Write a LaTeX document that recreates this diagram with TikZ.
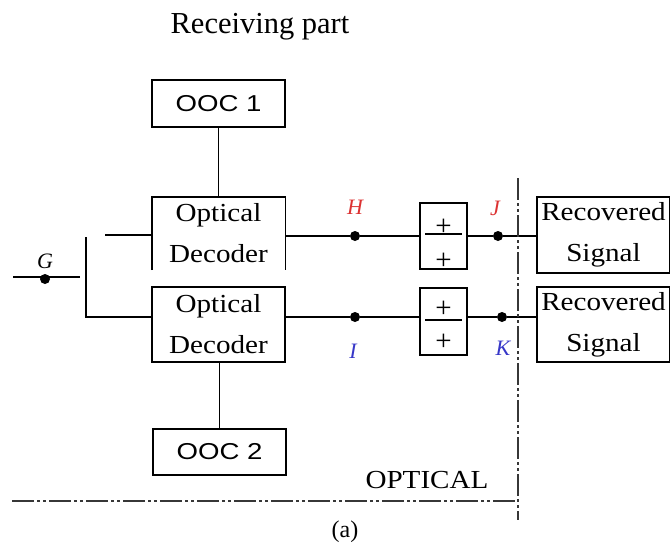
\documentclass[tikz,border=0pt]{standalone}
\usepackage{fontspec}
\setmainfont{Liberation Serif}
\newfontfamily\diagfont[FakeStretch=1.12]{Liberation Serif}
\newfontfamily\oocfont[FakeStretch=1.2]{Liberation Sans}
\definecolor{lblred}{RGB}{220,50,50}
\definecolor{lblblue}{RGB}{55,55,200}
\definecolor{dashgray}{RGB}{55,55,55}
\tikzset{
  wire/.style={line width=1.4pt, black},
  boxnode/.style={draw, line width=1.4pt, inner sep=0pt, align=center},
  openbox/.style={inner sep=0pt, align=center},
  oocbox/.style={boxnode, minimum width=133pt, font=\oocfont\fontsize{23}{23}\selectfont},
  decbox/.style={minimum width=133pt, font=\diagfont\fontsize{26}{41}\selectfont},
  sumbox/.style={boxnode, minimum width=47pt},
  plusmark/.style={inner sep=0pt, font=\fontsize{29}{29}\selectfont},
  junction/.style={circle, fill=black, inner sep=0pt, minimum size=10pt},
  ptlabel/.style={inner sep=0pt, font=\itshape\fontsize{22}{22}\selectfont},
  borderline/.style={line width=1.7pt, dashgray, dash pattern=on 22pt off 3pt on 3pt off 3pt on 3pt off 3pt},
}
\begin{document}
\begin{tikzpicture}[x=1pt, y=-1pt]
\useasboundingbox (0,0) rectangle (670,552);

% title
\node[anchor=base, font=\fontsize{30.5}{30.5}\selectfont, inner sep=0pt] (title) at (260,33) {Receiving part};

% OOC boxes
\node[oocbox, minimum height=47pt] (ooc1) at (218.5,103.5) {\raisebox{-6pt}{OOC 1}};
\node[oocbox, minimum height=46pt] (ooc2) at (219.5,452) {\raisebox{-6pt}{OOC 2}};

% decoders
\node[decbox, openbox, minimum height=73pt] (dec1) at (218.5,233.5) {Optical\\Decoder};
\draw[wire] (dec1.south west) |- (dec1.north east) -- (dec1.south east);
\node[decbox, boxnode, minimum height=75pt] (dec2) at (218.5,324.5) {Optical\\Decoder};

% summing boxes
\node[sumbox, minimum height=66pt] (sum1) at (443.5,236) {};
\node[sumbox, minimum height=67pt] (sum2) at (443.5,321.5) {};
\coordinate (s1l) at (425,234); \coordinate (s1r) at (462,234);
\coordinate (s2l) at (425,320); \coordinate (s2r) at (462,320);
\draw[line width=1.3pt] (s1l) -- (s1r);
\draw[line width=1.3pt] (s2l) -- (s2r);
\node[plusmark] (p1a) at (443.5,227) {+};
\node[plusmark] (p1b) at (443.5,261) {+};
\node[plusmark] (p2a) at (443.5,309) {+};
\node[plusmark] (p2b) at (443.5,342) {+};

% recovered signal boxes
\node[decbox, boxnode, minimum height=76pt] (rec1) at (603.5,235) {Recovered\\Signal};
\node[decbox, boxnode, minimum height=75pt] (rec2) at (603.5,324.5) {Recovered\\Signal};

% input G
\coordinate (gin) at (13,277);
\coordinate (gout) at (80,277);
\node[junction] (G) at (45,279) {};
\node[ptlabel] (Glbl) at (45,261) {G};
\draw[wire] (gin) -- (gout);
\coordinate (vtop) at (86,237);
\coordinate (vbot) at (86,317);
\draw[wire] (vtop) -- (vbot) -- (vbot -| dec2.west);
\coordinate (upin) at (105,235);
\draw[wire] (upin) -- (upin -| dec1.west);

% vertical links to OOC
\draw[wire] (ooc1.south) -- (ooc1.south |- dec1.north);
\draw[wire] (dec2.south -| ooc2.north) -- (ooc2.north);

% upper row
\node[junction] (H) at (355,236) {};
\node[junction] (J) at (498,236) {};
\draw[wire] (H -| dec1.east) -- (H) -- (sum1.west |- H);
\draw[wire] (sum1.east |- J) -- (J) -- (rec1.west |- J);
\node[ptlabel, text=lblred] (Hlbl) at (355,207) {H};
\node[ptlabel, text=lblred] (Jlbl) at (495,208) {J};

% lower row
\node[junction] (I) at (355,317) {};
\node[junction] (K) at (502,317) {};
\draw[wire] (I -| dec2.east) -- (I) -- (sum2.west |- I);
\draw[wire] (sum2.east |- K) -- (K) -- (rec2.west |- K);
\node[ptlabel, text=lblblue] (Ilbl) at (353,351) {I};
\node[ptlabel, text=lblblue] (Klbl) at (503,348) {K};

% boundary lines
\coordinate (hl) at (12,501);
\coordinate (corner) at (518,501);
\coordinate (vt) at (518,178);
\coordinate (vb) at (518,520);
\draw[borderline] (hl) -- (corner);
\draw[borderline] (vt) -- (vb);

\node[anchor=base, inner sep=0pt, font=\diagfont\fontsize{26}{26}\selectfont] (optical) at (427,488) {OPTICAL};
\node[anchor=base, inner sep=0pt, font=\fontsize{24}{24}\selectfont] (cap) at (345,537) {(a)};
\end{tikzpicture}
\end{document}
